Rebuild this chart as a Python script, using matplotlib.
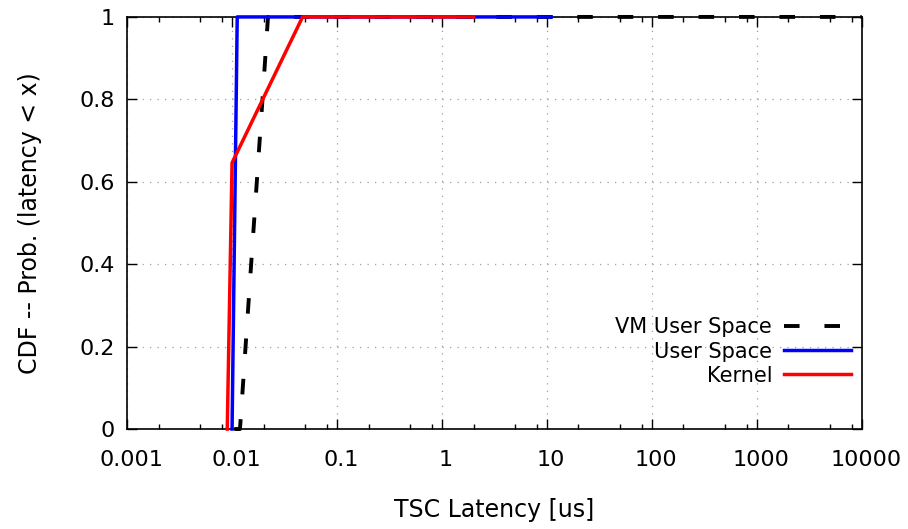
import matplotlib
matplotlib.use("Agg")
import matplotlib.pyplot as plt
import matplotlib.transforms as mtransforms
from matplotlib.ticker import LogLocator, FixedLocator, NullFormatter

# CDF curves: latency in microseconds vs cumulative probability
vm_lat = [0.0105, 0.0119, 0.0152, 0.0195, 0.022, 10000]
vm_cdf = [0.0, 0.0, 0.4, 0.8, 1.0, 1.0]

user_lat = [0.0100, 0.0112, 11]
user_cdf = [0.0, 1.0, 1.0]

kernel_lat = [0.0090, 0.0100, 0.047, 2.0]
kernel_cdf = [0.0, 0.646, 1.0, 1.0]

xticks = [0.001, 0.01, 0.1, 1, 10, 100, 1000, 10000]
xtick_labels = ["0.001", "0.01", "0.1", "1", "10", "100", "1000", "10000"]
yticks = [0, 0.2, 0.4, 0.6, 0.8, 1]
ytick_labels = ["0", "0.2", "0.4", "0.6", "0.8", "1"]

plt.rcParams["font.family"] = "DejaVu Sans"
plt.rcParams["font.size"] = 16

fig = plt.figure(figsize=(9.08, 5.29), dpi=100)
ax = fig.add_axes([0.140, 0.189, 0.809, 0.779])

ax.plot(vm_lat, vm_cdf, color="black", lw=2.8, dashes=(4.0, 6.4),
        label="VM User Space", clip_on=False, zorder=3)
ax.plot(user_lat, user_cdf, color="#0000ff", lw=2.5,
        label="User Space", clip_on=False, zorder=4)
ax.plot(kernel_lat, kernel_cdf, color="#ff0000", lw=2.5,
        label="Kernel", clip_on=False, zorder=5)

ax.set_xscale("log")
ax.set_xlim(0.001, 10000)
ax.set_ylim(0, 1)

ax.xaxis.set_major_locator(FixedLocator(xticks))
ax.set_xticklabels(xtick_labels)
ax.xaxis.set_minor_locator(LogLocator(base=10, subs=[2, 5, 8], numticks=20))
ax.xaxis.set_minor_formatter(NullFormatter())
ax.set_yticks(yticks)
ax.set_yticklabels(ytick_labels)

ax.tick_params(which="both", direction="in", top=True, right=True,
               color="black", width=1.0)
ax.tick_params(which="major", length=7)
ax.tick_params(which="minor", length=3.5)
ax.tick_params(axis="x", which="major", pad=15)
ax.tick_params(axis="y", which="major", pad=9)

# nudge x tick labels a few pixels to the right
shift = mtransforms.ScaledTranslation(4 / 100, 0, fig.dpi_scale_trans)
for lbl in ax.get_xticklabels():
    lbl.set_transform(lbl.get_transform() + shift)

for s in ax.spines.values():
    s.set_linewidth(1.2)
    s.set_color("black")

ax.grid(True, which="major", color="#a0a0a0", linestyle=(0, (1, 5)), lw=0.9)

ax.set_xlabel("TSC Latency [us]", fontsize=17, labelpad=20)
ax.set_ylabel("CDF -- Prob. (latency < x)", fontsize=17, labelpad=27)

ax.legend(loc="lower right", bbox_to_anchor=(0.986, 0.105), frameon=False,
          markerfirst=False, handlelength=3.25, handletextpad=0.55,
          labelspacing=0.2, borderpad=0, borderaxespad=0, fontsize=15)

fig.savefig("out.png", dpi=100)
